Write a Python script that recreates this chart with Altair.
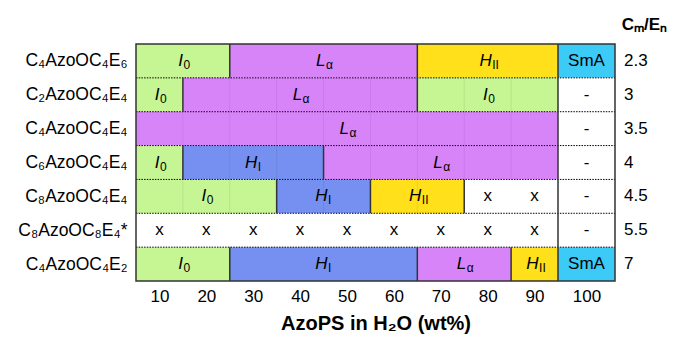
import altair as alt
import pandas as pd

# ---------------- data ----------------
rows = ["C₄AzoOC₄E₆", "C₂AzoOC₄E₄", "C₄AzoOC₄E₄", "C₆AzoOC₄E₄",
        "C₈AzoOC₄E₄", "C₈AzoOC₈E₄*", "C₄AzoOC₄E₂"]
ratios = ["2.3", "3", "3.5", "4", "4.5", "5.5", "7"]
ratio_header = "Cₘ/Eₙ"
x_ticks = [10, 20, 30, 40, 50, 60, 70, 80, 90, 100]
x_title = "AzoPS in H₂O (wt%)"

# phase segments (row index, start wt%, end wt%, phase)
seg_row = [0, 0, 0, 0,
           1, 1, 1, 1,
           2, 2,
           3, 3, 3, 3,
           4, 4, 4, 4, 4,
           5, 5,
           6, 6, 6, 6, 6]
seg_start = [5, 25, 65, 95,
             5, 15, 65, 95,
             5, 95,
             5, 15, 45, 95,
             5, 35, 55, 75, 95,
             5, 95,
             5, 25, 65, 85, 95]
seg_end = [25, 65, 95, 105,
           15, 65, 95, 105,
           95, 105,
           15, 45, 95, 105,
           35, 55, 75, 95, 105,
           95, 105,
           25, 65, 85, 95, 105]
seg_phase = ["I0", "La", "HII", "SmA",
             "I0", "La", "I0", "-",
             "La", "-",
             "I0", "HI", "La", "-",
             "I0", "HI", "HII", "none", "-",
             "none", "-",
             "I0", "HI", "La", "HII", "SmA"]

# cells marked "x"
x_mark_row = [4, 4, 5, 5, 5, 5, 5, 5, 5, 5, 5]
x_mark_pos = [80, 90, 10, 20, 30, 40, 50, 60, 70, 80, 90]

# rows whose coloured cells show faint column grid lines
faint_rows = [1, 2, 3, 4]

# ---------------- styles ----------------
FONT = "Liberation Sans"
FS = 17
W, H = 479, 237
W_MAIN = 422
phase_domain = ["I0", "La", "HI", "HII", "SmA", "-", "none"]
phase_colors = ["#c6f593", "#d884f9", "#7590f0", "#ffe01a", "#3ccbf7", "#ffffff", "#ffffff"]
sub_parts = {"I0": ("I", "0"), "La": ("L", "α"), "HI": ("H", "I"), "HII": ("H", "II")}
sub_dx = {"I0": 0, "La": 2, "HI": 4, "HII": 4}

# ---------------- tables ----------------
seg = pd.DataFrame({"row": seg_row, "start": seg_start, "end": seg_end, "phase": seg_phase})
seg["row_end"] = seg["row"] + 1
x_lo, x_hi = min(seg_start), max(seg_end)

labels = []
for r, s, e, p in zip(seg_row, seg_start, seg_end, seg_phase):
    c = (s + e) / 2
    if p in sub_parts:
        labels.append({"row": r, "x": c, "main": sub_parts[p][0], "sub": sub_parts[p][1], "kind": p})
    elif p in ("SmA", "-"):
        labels.append({"row": r, "x": c, "main": p, "sub": "", "kind": "plain"})
for r, xp in zip(x_mark_row, x_mark_pos):
    labels.append({"row": r, "x": xp, "main": "x", "sub": "", "kind": "plain"})
lab = pd.DataFrame(labels)
lab["yc"] = lab["row"] + 0.5

vrules = seg[seg["start"] > x_lo][["row", "start", "row_end"]]

faint = []
for r, s, e, p in zip(seg_row, seg_start, seg_end, seg_phase):
    if r in faint_rows and p in sub_parts:
        b = s + 10
        while b < e:
            faint.append({"row": r, "row_end": r + 1, "x": b})
            b += 10
faint = pd.DataFrame(faint)

seps = pd.DataFrame({"y": list(range(1, len(rows))), "x0": x_lo, "x1": x_hi})
frame = pd.DataFrame({"x0": [x_lo], "x1": [x_hi], "y0": [0], "y1": [len(rows)]})
rat = pd.DataFrame({"yc": [i + 0.5 for i in range(len(ratios))], "t": ratios})
head = pd.DataFrame({"t": [ratio_header]})

# ---------------- scales / axes ----------------
xscale = alt.Scale(domain=[x_lo, 95, x_hi], range=[0, W_MAIN, W], nice=False, zero=False)
yscale = alt.Scale(domain=[0, len(rows)], reverse=True, nice=False, zero=False)
names_js = "[" + ",".join("'" + n + "'" for n in rows) + "]"
xaxis = alt.Axis(values=x_ticks, ticks=False, domain=False, grid=False, labelFont=FONT,
                 labelFontSize=FS, labelColor="black", labelPadding=7, title=x_title,
                 titleFont=FONT, titleFontSize=20, titleFontWeight="bold", titleColor="black",
                 titlePadding=9)
yaxis = alt.Axis(values=[i + 0.5 for i in range(len(rows))], labelExpr=names_js + "[floor(datum.value)]",
                 ticks=False, domain=False, grid=False, labelFont=FONT, labelFontSize=17.5,
                 labelColor="black", labelPadding=9, title=None)


def X(f):
    return alt.X(f, scale=xscale, axis=xaxis)


def Y(f):
    return alt.Y(f, scale=yscale, axis=yaxis)


rects = alt.Chart(seg).mark_rect().encode(
    x=X("start:Q"), x2="end:Q", y=Y("row:Q"), y2="row_end:Q",
    color=alt.Color("phase:N", scale=alt.Scale(domain=phase_domain, range=phase_colors), legend=None),
)
faint_l = alt.Chart(faint).mark_rule(color="black", strokeOpacity=0.07, strokeWidth=1).encode(
    x=X("x:Q"), y=Y("row:Q"), y2="row_end:Q")
sep_l = alt.Chart(seps).mark_rule(color="black", strokeWidth=1, strokeDash=[1.5, 1.2]).encode(
    x=X("x0:Q"), x2="x1:Q", y=Y("y:Q"))
v_l = alt.Chart(vrules).mark_rule(color="#333333", strokeWidth=1.5).encode(
    x=X("start:Q"), y=Y("row:Q"), y2="row_end:Q")
frame_l = alt.Chart(frame).mark_rect(filled=False, stroke="#333333", strokeWidth=1.5).encode(
    x=X("x0:Q"), x2="x1:Q", y=Y("y0:Q"), y2="y1:Q")

plain = alt.Chart(lab).transform_filter(alt.datum.kind == "plain").mark_text(
    font=FONT, fontSize=FS, color="black", baseline="middle").encode(
    x=X("x:Q"), y=Y("yc:Q"), text="main:N")

sub_layers = []
for k in sub_parts:
    sub_layers.append(alt.Chart(lab).transform_filter(alt.datum.kind == k).mark_text(
        font=FONT, fontSize=FS, fontStyle="italic", color="black", align="right",
        baseline="middle", dx=sub_dx[k]).encode(x=X("x:Q"), y=Y("yc:Q"), text="main:N"))
    sub_layers.append(alt.Chart(lab).transform_filter(alt.datum.kind == k).mark_text(
        font=FONT, fontSize=12, color="black", align="left",
        baseline="middle", dx=sub_dx[k] + 0.5, dy=4).encode(x=X("x:Q"), y=Y("yc:Q"), text="sub:N"))

rat_l = alt.Chart(rat).mark_text(font=FONT, fontSize=FS, color="black", align="left",
                                  baseline="middle").encode(
    x=alt.value(W + 9), y=Y("yc:Q"), text="t:N")
head_l = alt.Chart(head).mark_text(font=FONT, fontSize=17, fontWeight="bold", color="black",
                                   align="right", baseline="middle").encode(
    x=alt.value(W + 52), y=alt.value(-19), text="t:N")

chart = alt.layer(rects, faint_l, sep_l, v_l, frame_l, plain, *sub_layers, rat_l, head_l).properties(
    width=W, height=H,
    autosize=alt.AutoSizeParams(type="none"),
    padding={"left": 128, "top": 36, "right": 53, "bottom": 55},
).configure_view(stroke=None)

chart.save("out.html", embed_options={"renderer": "svg", "actions": False})
